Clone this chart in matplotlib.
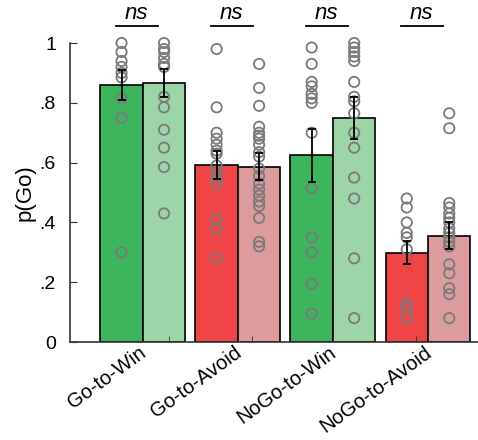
import numpy as np
import matplotlib.pyplot as plt

plt.rcParams.update({'font.family': 'Liberation Sans', 'font.size': 14})

conditions = ['Go-to-Win', 'Go-to-Avoid', 'NoGo-to-Win', 'NoGo-to-Avoid']

# group means (first / second bar of each condition) and standard errors
mean_a = [0.860, 0.592, 0.624, 0.299]
mean_b = [0.866, 0.586, 0.748, 0.356]
sem_a = [0.049, 0.048, 0.088, 0.039]
sem_b = [0.048, 0.045, 0.070, 0.046]

# individual subjects
subj_a = [
    [1.0, 0.97, 0.94, 0.92, 0.90, 0.885, 0.815, 0.75, 0.30],
    [0.98, 0.785, 0.70, 0.68, 0.66, 0.64, 0.63, 0.59, 0.57, 0.55, 0.53, 0.41, 0.38, 0.28],
    [0.985, 0.93, 0.87, 0.855, 0.83, 0.815, 0.80, 0.70, 0.515, 0.35, 0.30, 0.195, 0.095],
    [0.48, 0.45, 0.40, 0.365, 0.35, 0.31, 0.13, 0.115, 0.08],
]
subj_b = [
    [1.0, 0.98, 0.97, 0.95, 0.93, 0.92, 0.82, 0.785, 0.71, 0.65, 0.585, 0.43],
    [0.93, 0.85, 0.79, 0.72, 0.70, 0.69, 0.68, 0.66, 0.635, 0.62, 0.58, 0.555,
     0.53, 0.51, 0.49, 0.47, 0.455, 0.415, 0.335, 0.32],
    [1.0, 0.985, 0.97, 0.955, 0.94, 0.87, 0.82, 0.805, 0.765, 0.70, 0.65, 0.55,
     0.48, 0.28, 0.08],
    [0.765, 0.715, 0.465, 0.45, 0.43, 0.415, 0.40, 0.38, 0.365, 0.35, 0.335,
     0.32, 0.26, 0.23, 0.18, 0.16, 0.08],
]
sig_labels = ['ns', 'ns', 'ns', 'ns']

yticks = [0, 0.2, 0.4, 0.6, 0.8, 1.0]
ytick_labels = ['0', '.2', '.4', '.6', '.8', '1']

colors_a = ['#3cb55c', '#f04546', '#3cb55c', '#f04546']
colors_b = ['#9dd4a8', '#dc9b9d', '#9dd4a8', '#dc9b9d']

fig = plt.figure(figsize=(4.78, 4.40), dpi=100)
ax = fig.add_axes([0.146, 0.2227, 0.854, 0.6795])

x = np.arange(len(conditions))
w = 0.447

ax.bar(x - w / 2, mean_a, width=w, color=colors_a, edgecolor='black', linewidth=1.2, zorder=1)
ax.bar(x + w / 2, mean_b, width=w, color=colors_b, edgecolor='black', linewidth=1.2, zorder=1)

for i in range(len(conditions)):
    ax.scatter(np.full(len(subj_a[i]), x[i] - w / 2), subj_a[i], s=55, facecolors='none',
               edgecolors='#7a7a7a', linewidths=1.3, zorder=2, clip_on=False)
    ax.scatter(np.full(len(subj_b[i]), x[i] + w / 2), subj_b[i], s=55, facecolors='none',
               edgecolors='#7a7a7a', linewidths=1.3, zorder=2, clip_on=False)

ax.errorbar(x - w / 2, mean_a, yerr=sem_a, fmt='none', ecolor='black', elinewidth=1.3,
            capsize=2.8, capthick=1.3, zorder=3)
ax.errorbar(x + w / 2, mean_b, yerr=sem_b, fmt='none', ecolor='black', elinewidth=1.3,
            capsize=2.8, capthick=1.3, zorder=3)

# significance markers above each condition
for i, lab in enumerate(sig_labels):
    xc = x[i] - 0.065
    ax.plot([xc - 0.22, xc + 0.22], [1.057, 1.057], color='black', lw=1.3, clip_on=False)
    ax.text(xc, 1.062, lab, style='italic', fontsize=16, ha='center', va='bottom')

ax.set_xlim(-0.768, 3.526)
ax.set_ylim(0, 1)
ax.set_yticks(yticks)
ax.set_yticklabels(ytick_labels)
ax.set_ylabel('p(Go)', fontsize=16)
ax.yaxis.set_label_coords(-0.085, 0.5)

ax.set_xticks(x - 0.045)
ax.set_xticklabels(conditions, rotation=36, ha='right', va='top', rotation_mode='anchor')
ax.tick_params(axis='x', which='major', length=0, pad=0.5, labelsize=14.5)
ax.set_xticks([0.274, 1.147, 2.0, 2.874], minor=True)
ax.tick_params(axis='x', which='minor', direction='in', length=4, color='#333333')
ax.tick_params(axis='y', direction='in', length=5, pad=10, color='#333333', labelsize=14)

for s in ['top', 'right']:
    ax.spines[s].set_visible(False)
for s in ['left', 'bottom']:
    ax.spines[s].set_color('#333333')
    ax.spines[s].set_linewidth(1.2)

fig.savefig('out.png', dpi=100)
